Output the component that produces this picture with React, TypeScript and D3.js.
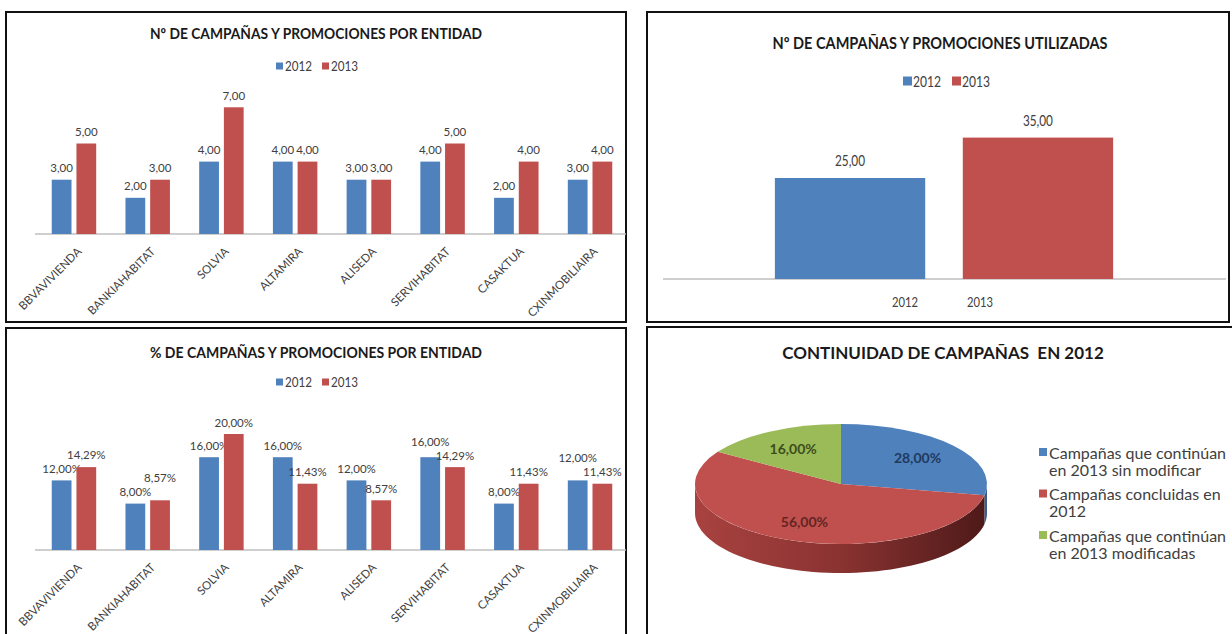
import * as d3 from 'd3';
import React from 'react';

const ENTITIES = ['BBVAVIVIENDA', 'BANKIAHABITAT', 'SOLVIA', 'ALTAMIRA', 'ALISEDA', 'SERVIHABITAT', 'CASAKTUA', 'CXINMOBILIAIRA'];
const YEARS = ['2012', '2013'];
const COUNT_2012 = [3, 2, 4, 4, 3, 4, 2, 3];
const COUNT_2013 = [5, 3, 7, 4, 3, 5, 4, 4];
const PCT_2012 = [12, 8, 16, 16, 12, 16, 8, 12];
const PCT_2013 = [14.29, 8.57, 20, 11.43, 8.57, 14.29, 11.43, 11.43];
const TOTALS = [25, 35];
const PIE_LABELS = [
  ['Campañas que continúan', 'en 2013 sin modificar'],
  ['Campañas concluidas en', '2012'],
  ['Campañas que continúan', 'en 2013 modificadas'],
];
const PIE_VALUES = [28, 56, 16];

const BLUE = '#4F81BD';
const RED = '#C0504D';
const GREEN = '#9BBB59';
const COLORS = [BLUE, RED];
const TEXT = '#404040';
const FONT = "Lato, 'Open Sans', sans-serif";

const fmt = (v: number) => v.toFixed(2).replace('.', ',');

type BarPanelProps = {
  top: number;
  title: string;
  titleY: number;
  v12: number[];
  v13: number[];
  yMax: number;
  pxPerUnit: number;
  suffix: string;
  labelGap: number;
};

// grouped bars by entity (top-left and bottom-left panels)
const BarPanel = ({ top, title, titleY, v12, v13, yMax, pxPerUnit, suffix, labelGap }: BarPanelProps) => {
  const base = top + 222;
  const x = d3.scaleBand().domain(ENTITIES).range([37, 627]).paddingInner(0.397).paddingOuter(0.2);
  const x1 = d3.scaleBand().domain(YEARS).range([0, x.bandwidth()]).paddingInner(0.2);
  const y = d3.scaleLinear().domain([0, yMax]).range([base, base - yMax * pxPerUnit]);
  const series = [v12, v13];

  // label positions, pushing the higher one up when the two labels would collide
  const labelY = ENTITIES.map((_, i) => {
    const a = y(v12[i]) - 12;
    const b = y(v13[i]) - 12;
    if (Math.abs(a - b) >= labelGap) return [a, b];
    return a <= b ? [b - labelGap, b] : [a, a - labelGap];
  });

  return (
    <g>
      <rect x={6} y={top} width={620} height={310} fill="#fff" stroke="#111" strokeWidth={2} />
      <text x={316} y={titleY} textAnchor="middle" dominantBaseline="central" fontFamily={FONT}
        fontWeight="bold" fontSize={15} fill="#1a1a1a" textLength={332} lengthAdjust="spacingAndGlyphs">
        {title}
      </text>
      {YEARS.map((yr, i) => (
        <g key={yr} transform={`translate(${276 + i * 46}, ${top + 54})`}>
          <rect x={0} y={-3.5} width={7} height={7} fill={COLORS[i]} />
          <text x={9} y={0} dominantBaseline="central" fontFamily={FONT} fontSize={12.5} fill={TEXT}
            textLength={27} lengthAdjust="spacingAndGlyphs">{yr}</text>
        </g>
      ))}
      <line x1={35} x2={626} y1={base} y2={base} stroke="#BFBFBF" strokeWidth={1.5} />
      {ENTITIES.map((e, i) => (
        <g key={e} transform={`translate(${x(e)}, 0)`}>
          {series.map((s, j) => (
            <g key={j}>
              <rect x={x1(YEARS[j])} y={y(s[i])} width={x1.bandwidth()} height={y(0) - y(s[i])} fill={COLORS[j]} />
              <text x={(x1(YEARS[j]) || 0) + x1.bandwidth() / 2} y={labelY[i][j]} textAnchor="middle"
                dominantBaseline="central" fontFamily={FONT} fontSize={11.5} fill={TEXT}>
                {fmt(s[i]) + suffix}
              </text>
            </g>
          ))}
        </g>
      ))}
      {ENTITIES.map((e) => (
        <text key={e} transform={`translate(${(x(e) || 0) + x.bandwidth() / 2 + 5}, ${base + 15}) rotate(-45)`}
          textAnchor="end" dominantBaseline="central" fontFamily={FONT} fontSize={11.5} fill={TEXT}>
          {e}
        </text>
      ))}
    </g>
  );
};

// totals per year (top-right panel)
const TotalPanel = () => {
  const base = 279;
  const x = d3.scaleBand().domain(YEARS).range([664, 1224]).paddingInner(0.2).paddingOuter(0.59);
  const xLabel = d3.scalePoint().domain(YEARS).range([905, 980]);
  const y = d3.scaleLinear().domain([0, 40]).range([base, base - 40 * 4.04]);
  return (
    <g>
      <rect x={647} y={12} width={582} height={310} fill="#fff" stroke="#111" strokeWidth={2} />
      <text x={940} y={42} textAnchor="middle" dominantBaseline="central" fontFamily={FONT} fontWeight="bold"
        fontSize={17} fill="#1a1a1a" textLength={335} lengthAdjust="spacingAndGlyphs">
        Nº DE CAMPAÑAS Y PROMOCIONES UTILIZADAS
      </text>
      {YEARS.map((yr, i) => (
        <g key={yr} transform={`translate(${903 + i * 49}, 81)`}>
          <rect x={0} y={-4.5} width={9} height={9} fill={COLORS[i]} />
          <text x={10} y={0} dominantBaseline="central" fontFamily={FONT} fontSize={15} fill={TEXT}
            textLength={28} lengthAdjust="spacingAndGlyphs">{yr}</text>
        </g>
      ))}
      <line x1={663} x2={1226} y1={base} y2={base} stroke="#BFBFBF" strokeWidth={1.5} />
      {YEARS.map((yr, i) => (
        <g key={yr}>
          <rect x={x(yr)} y={y(TOTALS[i])} width={x.bandwidth()} height={y(0) - y(TOTALS[i])} fill={COLORS[i]} />
          <text x={(x(yr) || 0) + x.bandwidth() / 2} y={y(TOTALS[i]) - 18} textAnchor="middle"
            dominantBaseline="central" fontFamily={FONT} fontSize={15} fill={TEXT}
            textLength={30} lengthAdjust="spacingAndGlyphs">
            {fmt(TOTALS[i])}
          </text>
          <text x={xLabel(yr)} y={301} textAnchor="middle" dominantBaseline="central" fontFamily={FONT}
            fontSize={14} fill={TEXT} textLength={26} lengthAdjust="spacingAndGlyphs">
            {yr}
          </text>
        </g>
      ))}
    </g>
  );
};

// 3D-looking pie (bottom-right panel)
const PiePanel = () => {
  const cx = 841;
  const cy = 484;
  const rx = 146;
  const ry = 60;
  const depth = 29;
  const pieColors = [BLUE, RED, GREEN];
  const sideColors = ['#385D8A', 'url(#redSide)', '#71893F'];
  const labelColors = ['#1F3A5F', '#632523', '#3B4E1A'];
  const arcs = d3.pie<number>().sort(null)(PIE_VALUES);
  const arc = d3.arc<d3.PieArcDatum<number>>().innerRadius(0).outerRadius(rx);

  const side = (a0: number, a1: number) => {
    const s = Math.max(a0, Math.PI / 2);
    const e = Math.min(a1, (3 * Math.PI) / 2);
    if (e <= s) return null;
    const n = 60;
    const pts: [number, number][] = [];
    for (let k = 0; k <= n; k++) {
      const t = s + ((e - s) * k) / n;
      pts.push([cx + rx * Math.sin(t), cy - ry * Math.cos(t)]);
    }
    for (let k = n; k >= 0; k--) {
      const t = s + ((e - s) * k) / n;
      pts.push([cx + rx * Math.sin(t), cy - ry * Math.cos(t) + depth]);
    }
    return 'M' + pts.map((p) => p.join(',')).join('L') + 'Z';
  };

  return (
    <g>
      <defs>
        <linearGradient id="redSide" x1="0" x2="1" y1="0" y2="0">
          <stop offset="0" stopColor="#A84240" />
          <stop offset="0.5" stopColor="#8A3331" />
          <stop offset="1" stopColor="#4E1A19" />
        </linearGradient>
      </defs>
      <rect x={647} y={327} width={590} height={320} fill="#fff" stroke="#111" strokeWidth={2} />
      <text x={943} y={352} textAnchor="middle" dominantBaseline="central" fontFamily={FONT} fontWeight="bold"
        fontSize={17} fill="#1a1a1a" xmlSpace="preserve">
        CONTINUIDAD DE CAMPAÑAS  EN 2012
      </text>
      {arcs.map((a, i) => {
        const d = side(a.startAngle, a.endAngle);
        return d ? <path key={i} d={d} fill={sideColors[i]} /> : null;
      })}
      <g transform={`translate(${cx}, ${cy}) scale(1, ${ry / rx})`}>
        {arcs.map((a, i) => (
          <path key={i} d={arc(a) || ''} fill={pieColors[i]} />
        ))}
      </g>
      {arcs.map((a, i) => {
        const m = (a.startAngle + a.endAngle) / 2;
        const r = 0.68 * rx;
        return (
          <text key={i} x={cx + r * Math.sin(m)} y={cy - r * (ry / rx) * Math.cos(m)} textAnchor="middle"
            dominantBaseline="central" fontFamily={FONT} fontWeight="bold" fontSize={14} fill={labelColors[i]}>
            {fmt(PIE_VALUES[i]) + '%'}
          </text>
        );
      })}
      {PIE_LABELS.map((lines, i) => (
        <g key={i} transform={`translate(1039, ${452 + i * 41.5})`}>
          <rect x={0} y={-4} width={8} height={8} fill={pieColors[i]} />
          {lines.map((l, k) => (
            <text key={k} x={10} y={k * 17} dominantBaseline="central" fontFamily={FONT} fontSize={16} fill={TEXT}>
              {l}
            </text>
          ))}
        </g>
      ))}
    </g>
  );
};

const App = () => (
  <svg width={1232} height={634} style={{ position: 'absolute', left: 0, top: 0, background: '#fff' }}>
    <BarPanel top={12} title="Nº DE CAMPAÑAS Y PROMOCIONES POR ENTIDAD" titleY={33} v12={COUNT_2012}
      v13={COUNT_2013} yMax={7} pxPerUnit={18.1} suffix="" labelGap={0} />
    <TotalPanel />
    <BarPanel top={328} title="% DE CAMPAÑAS Y PROMOCIONES POR ENTIDAD" titleY={352} v12={PCT_2012}
      v13={PCT_2013} yMax={20} pxPerUnit={5.8} suffix="%" labelGap={14} />
    <PiePanel />
  </svg>
);

export default App;
